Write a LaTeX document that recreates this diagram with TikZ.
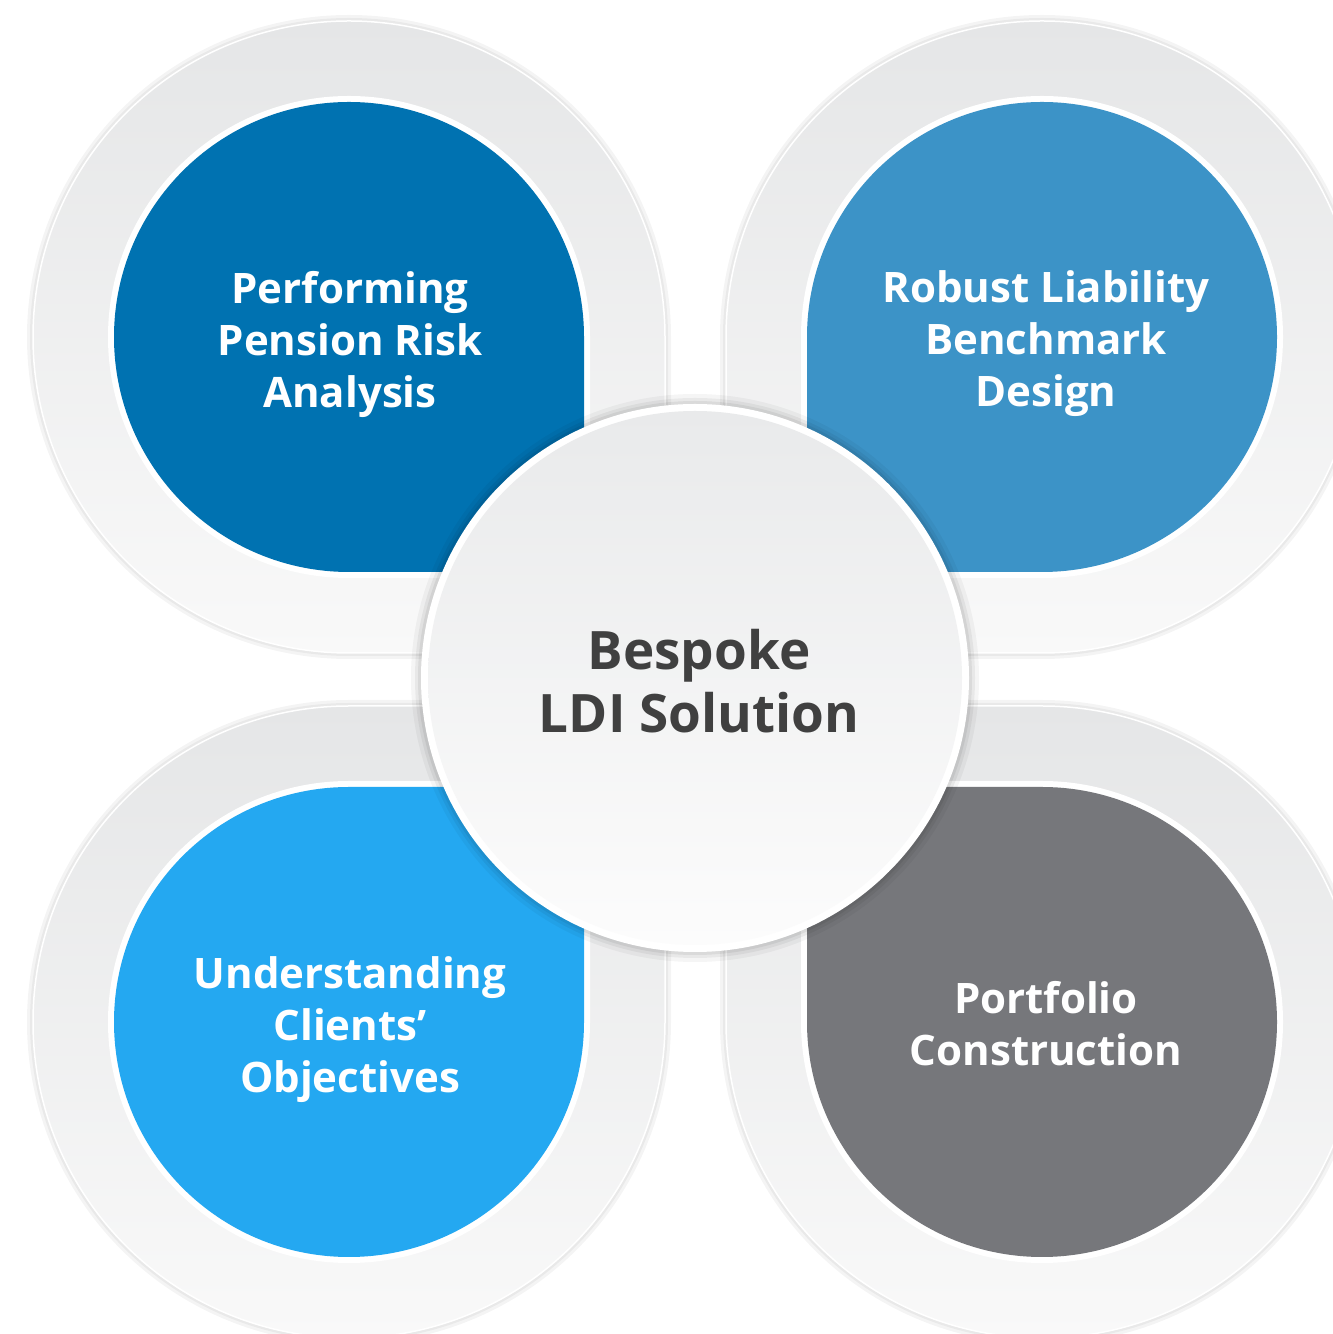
\documentclass[tikz,border=0pt]{standalone}
\usepackage{fontspec}
\setmainfont{Open Sans}
\definecolor{cTL}{RGB}{0,114,177}
\definecolor{cTR}{RGB}{60,147,199}
\definecolor{cBL}{RGB}{36,168,241}
\definecolor{cBR}{RGB}{118,119,123}
\definecolor{ringtop}{RGB}{229,230,231}
\definecolor{ringbot}{RGB}{249,249,249}
\definecolor{midtop}{RGB}{233,234,235}
\definecolor{midbot}{RGB}{252,252,252}
\definecolor{midtext}{RGB}{64,64,64}
\newcommand\qshape[3]{([shift={(#2+45:#3)}]#1) -- ++(#2-45:#3) -- ++(#2-135:#3) arc[start angle=#2-45, delta angle=-270, radius=#3] -- cycle}
\tikzset{
  qtext/.style={font=\bfseries\fontsize{42}{52}\selectfont, text=white, align=center, inner sep=0pt},
  mtext/.style={font=\bfseries\fontsize{53}{63}\selectfont, text=midtext, align=center, inner sep=0pt},
  ringshade/.style={top color=ringtop, bottom color=ringbot, draw=white, line width=1.5pt},
  softshadow/.style={fill=black, opacity=0.045}
}
\begin{document}
\begin{tikzpicture}[x=1pt,y=1pt]
\useasboundingbox (0,0) rectangle (1333,1334);
\fill[white] (0,0) rectangle (1333,1334);
\clip (0,0) rectangle (1333,1334);
\coordinate (TL) at (349,997);
\coordinate (TR) at (1042,997);
\coordinate (BL) at (349,312);
\coordinate (BR) at (1042,312);
\coordinate (M) at (695,656);
% outer rings: shadows
\foreach \c/\a in {TL/-45,TR/-135,BL/45,BR/135}{
  \fill[softshadow] \qshape{\c}{\a}{322};
  \fill[softshadow] \qshape{\c}{\a}{319};
}
% outer rings
\foreach \c/\a in {TL/-45,TR/-135,BL/45,BR/135}{
  \shade[ringshade] \qshape{\c}{\a}{316};
}
% inner coloured shapes
\foreach \c/\a/\col in {TL/-45/cTL,TR/-135/cTR,BL/45/cBL,BR/135/cBR}{
  \fill[white] \qshape{\c}{\a}{241};
  \fill[\col] \qshape{\c}{\a}{235};
}
% central disc
\fill[black,opacity=0.04] (M) circle[radius=284];
\fill[black,opacity=0.05] (M) circle[radius=280];
\fill[black,opacity=0.06] (M) circle[radius=277];
\fill[white] (M) circle[radius=274];
\shade[top color=midtop, bottom color=midbot] (M) circle[radius=267];
% texts
\node[qtext] (tltext) at (350,990) {Performing\\Pension Risk\\Analysis};
\node[qtext] (trtext) at (1046,990) {Robust Liability\\Benchmark\\Design};
\node[qtext] (bltext) at (350,304) {Understanding\\Clients’\\Objectives};
\node[qtext] (brtext) at (1046,310) {Portfolio\\Construction};
\node[mtext] (mtext) at (699,653) {Bespoke\\LDI Solution};
\end{tikzpicture}
\end{document}
